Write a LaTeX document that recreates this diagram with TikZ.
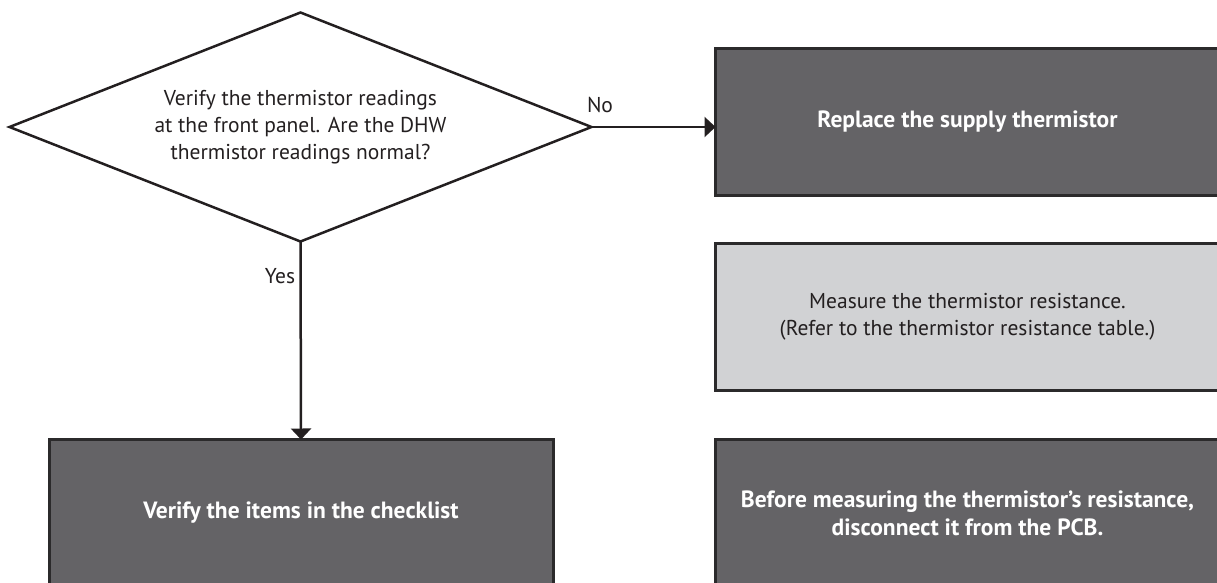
\documentclass[tikz,border=0pt]{standalone}
\usepackage{fontspec}
\setmainfont{PT Sans}
\usetikzlibrary{shapes.geometric,arrows.meta}
\definecolor{ink}{HTML}{231F20}
\definecolor{darkfill}{HTML}{646366}
\definecolor{lightfill}{HTML}{D1D2D4}
\definecolor{edge}{HTML}{2B2A2B}
\begin{document}
\begin{tikzpicture}[x=1pt,y=-1pt,
  txt/.style={font=\fontsize{21.5}{27}\selectfont, text=ink, align=center},
  boxbase/.style={rectangle, draw=edge, line width=3pt, outer sep=0pt, inner sep=0pt,
    minimum width=504pt, minimum height=147pt, align=center},
  darkbox/.style={boxbase, fill=darkfill, text=white, font=\fontsize{23.5}{28}\selectfont\bfseries},
  lightbox/.style={boxbase, fill=lightfill, text=ink, font=\fontsize{21.5}{27}\selectfont},
  conn/.style={draw=ink, line width=2.5pt, -{Triangle[length=11pt,width=20pt]}},
  decision/.style={diamond, draw=ink, line width=2.5pt, outer sep=0pt, inner sep=0pt,
    minimum width=582pt, minimum height=229pt, shape aspect=2.54, txt}
]
\useasboundingbox (0,0) rectangle (1217,583);
\clip (0,0) rectangle (1217,583);

\node[decision] (d) at (300.5,127) {Verify the thermistor readings\\at the front panel. Are the DHW\\thermistor readings normal?};

\node[darkbox] (b1) at (967.5,122) {Replace the supply thermistor};
\node[lightbox] (b2) at (967.5,317) {Measure the thermistor resistance.\\(Refer to the thermistor resistance table.)};
\node[darkbox] (b3) at (967.5,513) {Before measuring the thermistor's resistance,\\disconnect it from the PCB.};
\node[darkbox] (b4) at (301,513) {Verify the items in the checklist};

\draw[conn] (d.east) -- (d.east -| b1.west);
\draw[conn] (d.south) -- (b4.north);

\node[txt] (no) at (600,105) {No};
\node[txt] (yes) at (280,276) {Yes};
\end{tikzpicture}
\end{document}
